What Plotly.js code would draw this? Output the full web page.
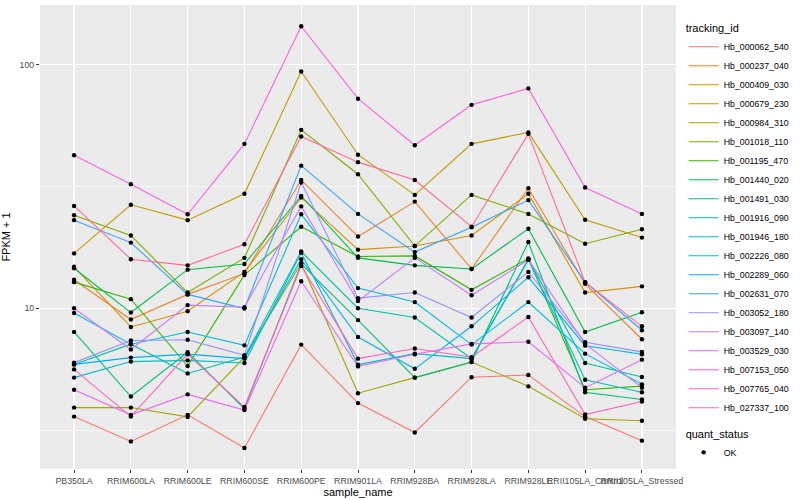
<!DOCTYPE html>
<html>
<head>
<meta charset="utf-8">
<script src="https://cdn.plot.ly/plotly-3.0.1.min.js"></script>
<style>html,body{margin:0;padding:0;background:#fff;}#chart{width:800px;height:500px;}</style>
</head>
<body>
<div id="chart"></div>
<script>
// ---- data (FPKM + 1) ----
const categories = ["PB350LA","RRIM600LA","RRIM600LE","RRIM600SE","RRIM600PE","RRIM901LA","RRIM928BA","RRIM928LA","RRIM928LE","RRII105LA_Control","RRII105LA_Stressed"];

const trackingIds = ["Hb_000062_540","Hb_000237_040","Hb_000409_030","Hb_000679_230","Hb_000984_310","Hb_001018_110","Hb_001195_470","Hb_001440_020","Hb_001491_030","Hb_001916_090","Hb_001946_180","Hb_002226_080","Hb_002289_060","Hb_002631_070","Hb_003052_180","Hb_003097_140","Hb_003529_030","Hb_007153_050","Hb_007765_040","Hb_027337_100"];

const hb_000062_540 = [3.59, 2.84, 3.65, 2.67, 7.09, 4.08, 3.09, 5.21, 5.32, 3.59, 2.86];
const hb_000237_040 = [13.1, 8.99, 11.4, 13.9, 33.6, 19.7, 27.4, 14.5, 31.1, 12.6, 7.46];
const hb_000409_030 = [14.8, 8.38, 9.72, 14.1, 28.5, 17.4, 18.0, 19.9, 29.5, 11.6, 12.3];
const hb_000679_230 = [16.8, 26.6, 23.0, 29.5, 93.8, 42.7, 29.2, 47.3, 52.7, 23.1, 19.5];
const hb_000984_310 = [3.91, 3.91, 3.58, 6.30, 15.3, 4.48, 5.19, 6.01, 4.78, 3.52, 3.45];
const hb_001018_110 = [24.1, 19.9, 11.6, 16.1, 54.0, 35.5, 18.0, 29.2, 24.4, 18.4, 21.1];
const hb_001195_470 = [12.8, 10.9, 5.79, 13.7, 21.6, 16.3, 16.4, 11.9, 16.0, 4.63, 4.79];
const hb_001440_020 = [14.6, 9.60, 14.4, 15.2, 28.9, 16.1, 15.0, 14.5, 21.2, 7.99, 9.63];
const hb_001491_030 = [7.99, 4.34, 6.60, 3.87, 15.2, 8.94, 5.19, 6.01, 18.7, 4.52, 4.22];
const hb_001916_090 = [5.88, 7.12, 5.40, 6.30, 17.1, 10.0, 9.16, 6.21, 15.9, 5.96, 5.22];
const hb_001946_180 = [5.19, 6.04, 6.11, 5.96, 16.9, 5.87, 6.51, 6.21, 15.8, 5.09, 4.52];
const hb_002226_080 = [9.56, 7.12, 7.99, 7.04, 24.3, 12.1, 10.6, 7.09, 10.6, 6.51, 4.87];
const hb_002289_060 = [5.88, 6.27, 6.48, 6.21, 15.9, 7.62, 5.64, 8.43, 13.4, 7.02, 6.47];
const hb_002631_070 = [23.0, 18.6, 11.4, 9.97, 38.5, 24.4, 17.0, 21.5, 27.8, 12.8, 8.12];
const hb_003052_180 = [5.98, 7.37, 7.42, 6.41, 32.8, 11.0, 11.6, 9.16, 14.1, 7.25, 6.62];
const hb_003097_140 = [10.0, 6.77, 10.3, 10.1, 26.2, 10.7, 16.1, 11.3, 15.8, 7.14, 4.72];
const hb_003529_030 = [4.63, 3.65, 4.43, 3.82, 12.9, 5.77, 6.47, 7.14, 7.28, 4.72, 6.15];
const hb_007153_050 = [42.5, 32.3, 24.3, 47.3, 143.8, 72.5, 46.7, 68.4, 79.9, 31.3, 24.4];
const hb_007765_040 = [5.61, 3.59, 6.48, 3.93, 14.9, 6.21, 6.83, 6.29, 9.21, 3.66, 4.14];
const hb_027337_100 = [26.3, 15.9, 15.0, 18.3, 50.7, 39.8, 33.6, 21.6, 52.0, 12.8, 8.43];

const seriesValues = [hb_000062_540, hb_000237_040, hb_000409_030, hb_000679_230, hb_000984_310, hb_001018_110, hb_001195_470, hb_001440_020, hb_001491_030, hb_001916_090, hb_001946_180, hb_002226_080, hb_002289_060, hb_002631_070, hb_003052_180, hb_003097_140, hb_003529_030, hb_007153_050, hb_007765_040, hb_027337_100];

const quantStatus = ["OK"];

// ---- styles ----
const hueColors = ["#F8766D","#EA8331","#D89000","#C09B00","#A3A500","#7CAE00","#39B600","#00BB4E","#00BF7D","#00C1A3","#00BFC4","#00BAE0","#00B0F6","#35A2FF","#9590FF","#C77CFF","#E76BF3","#FA62DB","#FF62BC","#FF6C91"];

const traces = [];
trackingIds.forEach((id, i) => {
  traces.push({
    type: 'scatter', mode: 'lines', name: id,
    x: categories, y: seriesValues[i],
    line: {color: hueColors[i], width: 1.1},
    legend: 'legend', hoverinfo: 'x+y+name'
  });
});
const px = [], py = [];
seriesValues.forEach(vals => vals.forEach((v, j) => { px.push(categories[j]); py.push(v); }));
traces.push({
  type: 'scatter', mode: 'markers', name: quantStatus[0],
  x: px, y: py,
  marker: {color: '#000000', size: 4.4, symbol: 'circle'},
  legend: 'legend2'
});

const tickFont = {family: 'Liberation Sans, Arial, sans-serif', size: 8.8, color: '#4D4D4D'};
const layout = {
  width: 800, height: 500,
  margin: {l: 40, r: 116, t: 5, b: 31, pad: 0},
  paper_bgcolor: '#FFFFFF',
  plot_bgcolor: '#EBEBEB',
  font: {family: 'Liberation Sans, Arial, sans-serif', size: 11, color: '#000000'},
  xaxis: {
    type: 'category', range: [-0.6, 10.6],
    showgrid: true, gridcolor: '#FFFFFF', gridwidth: 1.2,
    zeroline: false, showline: false,
    ticks: 'outside', ticklen: 3, tickcolor: '#333333', tickwidth: 1,
    tickfont: tickFont, tickangle: 0, automargin: false,
    title: {text: 'sample_name', font: {size: 11, color: '#000000'}, standoff: 0}
  },
  yaxis: {
    type: 'log', range: [0.340, 2.245],
    tickmode: 'array', tickvals: [10, 100], ticktext: ['10', '100'],
    showgrid: true, gridcolor: '#FFFFFF', gridwidth: 1.2,
    minor: {tickmode: 'array', tickvals: [3.1623, 31.623], showgrid: true, gridcolor: '#FFFFFF', gridwidth: 0.6, ticks: ''},
    zeroline: false, showline: false,
    ticks: 'outside', ticklen: 3, tickcolor: '#333333', tickwidth: 1,
    tickfont: tickFont, automargin: false,
    title: {text: 'FPKM + 1', font: {size: 11, color: '#000000'}, standoff: 6}
  },
  legend: {
    x: 1.012, xanchor: 'left', y: 0.972, yanchor: 'top',
    bgcolor: 'rgba(0,0,0,0)',
    font: {size: 8.8, color: '#000000'},
    title: {text: 'tracking_id', font: {size: 11}},
    traceorder: 'normal', itemwidth: 30, tracegroupgap: 0
  },
  legend2: {
    x: 1.012, xanchor: 'left', y: 0.098, yanchor: 'top',
    bgcolor: 'rgba(0,0,0,0)',
    font: {size: 8.8, color: '#000000'},
    title: {text: 'quant_status', font: {size: 11}},
    itemwidth: 30
  },
  showlegend: true
};
Plotly.newPlot('chart', traces, layout, {displayModeBar: false, staticPlot: true});
</script>
</body>
</html>
